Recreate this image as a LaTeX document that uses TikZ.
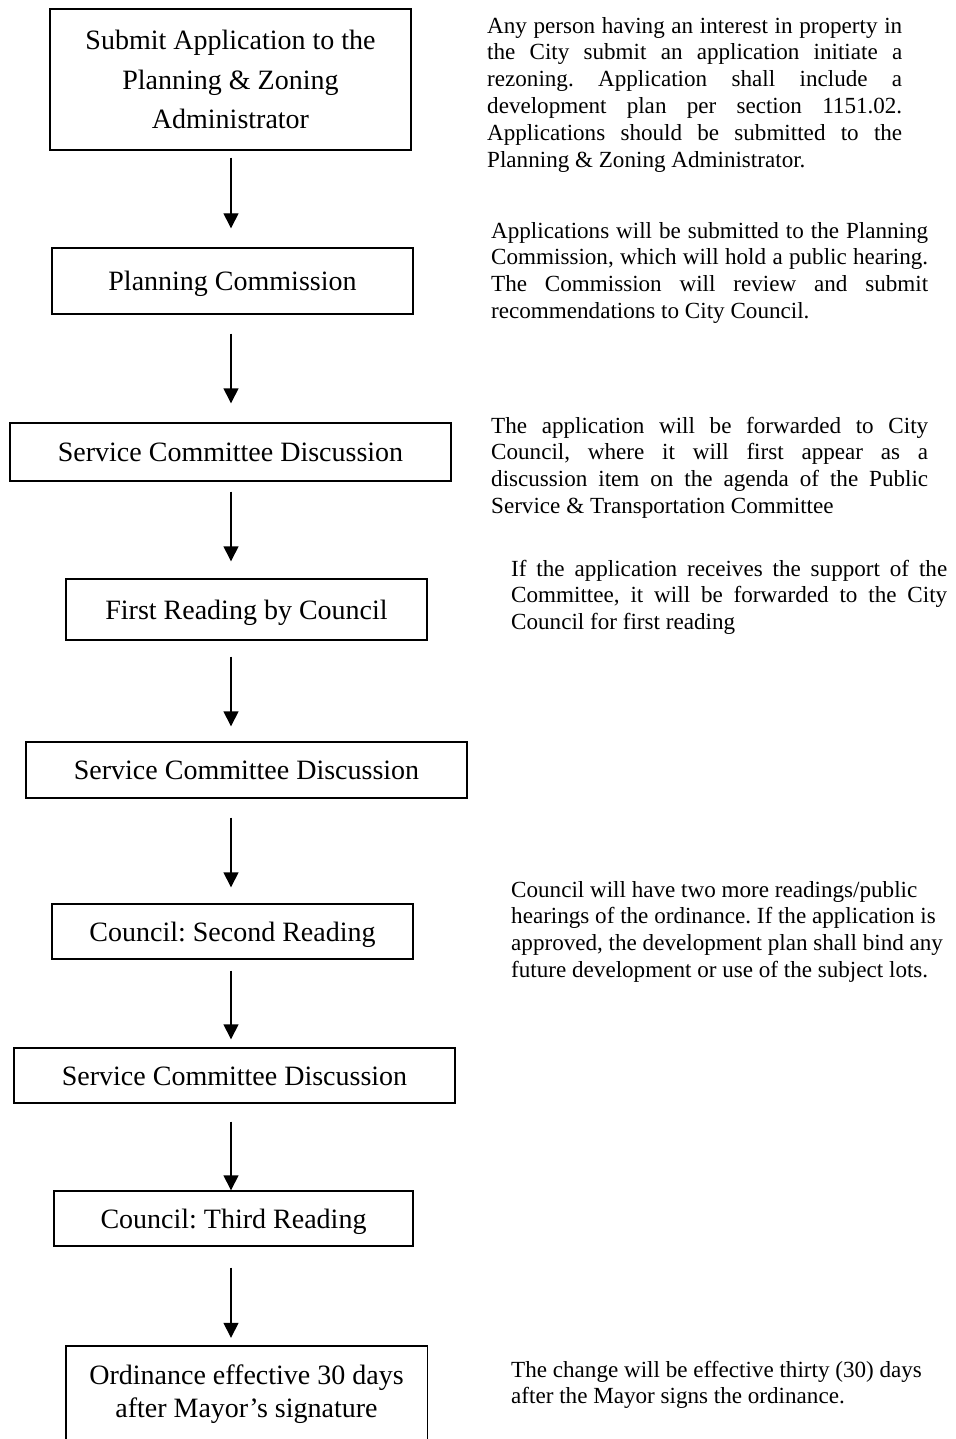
\documentclass[tikz,border=0pt]{standalone}
\usepackage{fontspec}
\setmainfont{Liberation Serif}
\usetikzlibrary{arrows.meta}
\frenchspacing

% type sizes for the step boxes and the explanatory notes
\newcommand\flowfont{\fontsize{28}{39.5}\selectfont}
\newcommand\notefont{\fontsize{23.1}{26.8}\selectfont}
% one justified line of a note, spread to the given width
\newcommand\jl[2]{\makebox[#1pt][s]{\strut#2}}

\begin{document}
\begin{tikzpicture}[x=1pt,y=-1pt,
  stepbox/.style={draw, line width=1.4pt, rectangle, inner sep=0pt,
    font=\flowfont, text height=19pt, text depth=0pt},
  tallbox/.style={draw, line width=1.4pt, rectangle, inner sep=0pt,
    align=center, font=\flowfont},
  note/.style={anchor=north west, inner sep=0pt, align=left, font=\notefont},
  flow/.style={line width=1.4pt, -{Triangle[width=15pt,length=15pt]}}]

\fill[white] (0,0) rectangle (955,1439);
\clip (0,0) rectangle (955,1439);
\useasboundingbox (0,0) rectangle (955,1439);

% ---- steps ----
\node[tallbox, minimum width=361pt, minimum height=141pt] (b1) at (230.5,79.5)
  {Submit Application to the\\Planning \& Zoning\\Administrator};
\node[stepbox, minimum width=361pt, minimum height=66pt] (b2) at (232.5,281)
  {Planning Commission};
\node[stepbox, minimum width=441pt, minimum height=58pt] (b3) at (230.5,452)
  {Service Committee Discussion};
\node[stepbox, minimum width=361pt, minimum height=61pt] (b4) at (246.5,609.5)
  {First Reading by Council};
\node[stepbox, minimum width=441pt, minimum height=56pt] (b5) at (246.5,770)
  {Service Committee Discussion};
\node[stepbox, minimum width=361pt, minimum height=55pt] (b6) at (232.5,931.5)
  {Council: Second Reading};
\node[stepbox, minimum width=441pt, minimum height=55pt] (b7) at (234.5,1075.5)
  {Service Committee Discussion};
\node[stepbox, minimum width=359pt, minimum height=55pt] (b8) at (233.5,1218.5)
  {Council: Third Reading};
% last step: its frame runs on past the lower edge of the page
\node[inner sep=0pt, align=center, font={\fontsize{28}{33}\selectfont},
  minimum width=361pt, minimum height=96pt] (b9) at (246.5,1394)
  {Ordinance effective 30 days\\after Mayor’s signature};
\draw[line width=1.4pt] ([yshift=-60pt]b9.south west) -- (b9.north west)
  -- (b9.north east) -- ([yshift=-60pt]b9.south east);

% ---- connectors ----
\coordinate (spine) at (231,0);
\draw[flow, shorten <=7pt,  shorten >=19pt] (b1.south -| spine) -- (b2.north -| spine);
\draw[flow, shorten <=19pt, shorten >=19pt] (b2.south -| spine) -- (b3.north -| spine);
\draw[flow, shorten <=10pt, shorten >=17pt] (b3.south -| spine) -- (b4.north -| spine);
\draw[flow, shorten <=16pt, shorten >=15pt] (b4.south -| spine) -- (b5.north -| spine);
\draw[flow, shorten <=19pt, shorten >=16pt] (b5.south -| spine) -- (b6.north -| spine);
\draw[flow, shorten <=11pt, shorten >=8pt]  (b6.south -| spine) -- (b7.north -| spine);
\draw[flow, shorten <=18pt, shorten >=0pt]  (b7.south -| spine) -- (b8.north -| spine);
\draw[flow, shorten <=21pt, shorten >=8pt]  (b8.south -| spine) -- (b9.north -| spine);

% ---- notes ----
\node[note] (n1) at (487,14.24) {%
  \jl{415}{Any person having an interest in property in}\\
  \jl{415}{the City submit an application initiate a}\\
  \jl{415}{rezoning. Application shall include a}\\
  \jl{415}{development plan per section 1151.02.}\\
  \jl{415}{Applications should be submitted to the}\\
  \strut Planning \& Zoning Administrator.};

\node[note] (n2) at (491,219.2) {%
  \jl{437}{Applications will be submitted to the Planning}\\
  \jl{437}{Commission, which will hold a public hearing.}\\
  \jl{437}{The Commission will review and submit}\\
  \strut recommendations to City Council.};

\node[note] (n3) at (491,414.2) {%
  \jl{437}{The application will be forwarded to City}\\
  \jl{437}{Council, where it will first appear as a}\\
  \jl{437}{discussion item on the agenda of the Public}\\
  \strut Service \& Transportation Committee};

\node[note] (n4) at (511,557.2) {%
  \jl{436}{If the application receives the support of the}\\
  \jl{436}{Committee, it will be forwarded to the City}\\
  \strut Council for first reading};

\node[note] (n5) at (511,878.2) {%
  \strut Council will have two more readings/public\\
  \strut hearings of the ordinance. If the application is\\
  \strut approved, the development plan shall bind any\\
  \strut future development or use of the subject lots.};

\node[note] (n6) at (511,1358.2) {%
  \strut The change will be effective thirty (30) days\\
  \strut after the Mayor signs the ordinance.};

\end{tikzpicture}
\end{document}
